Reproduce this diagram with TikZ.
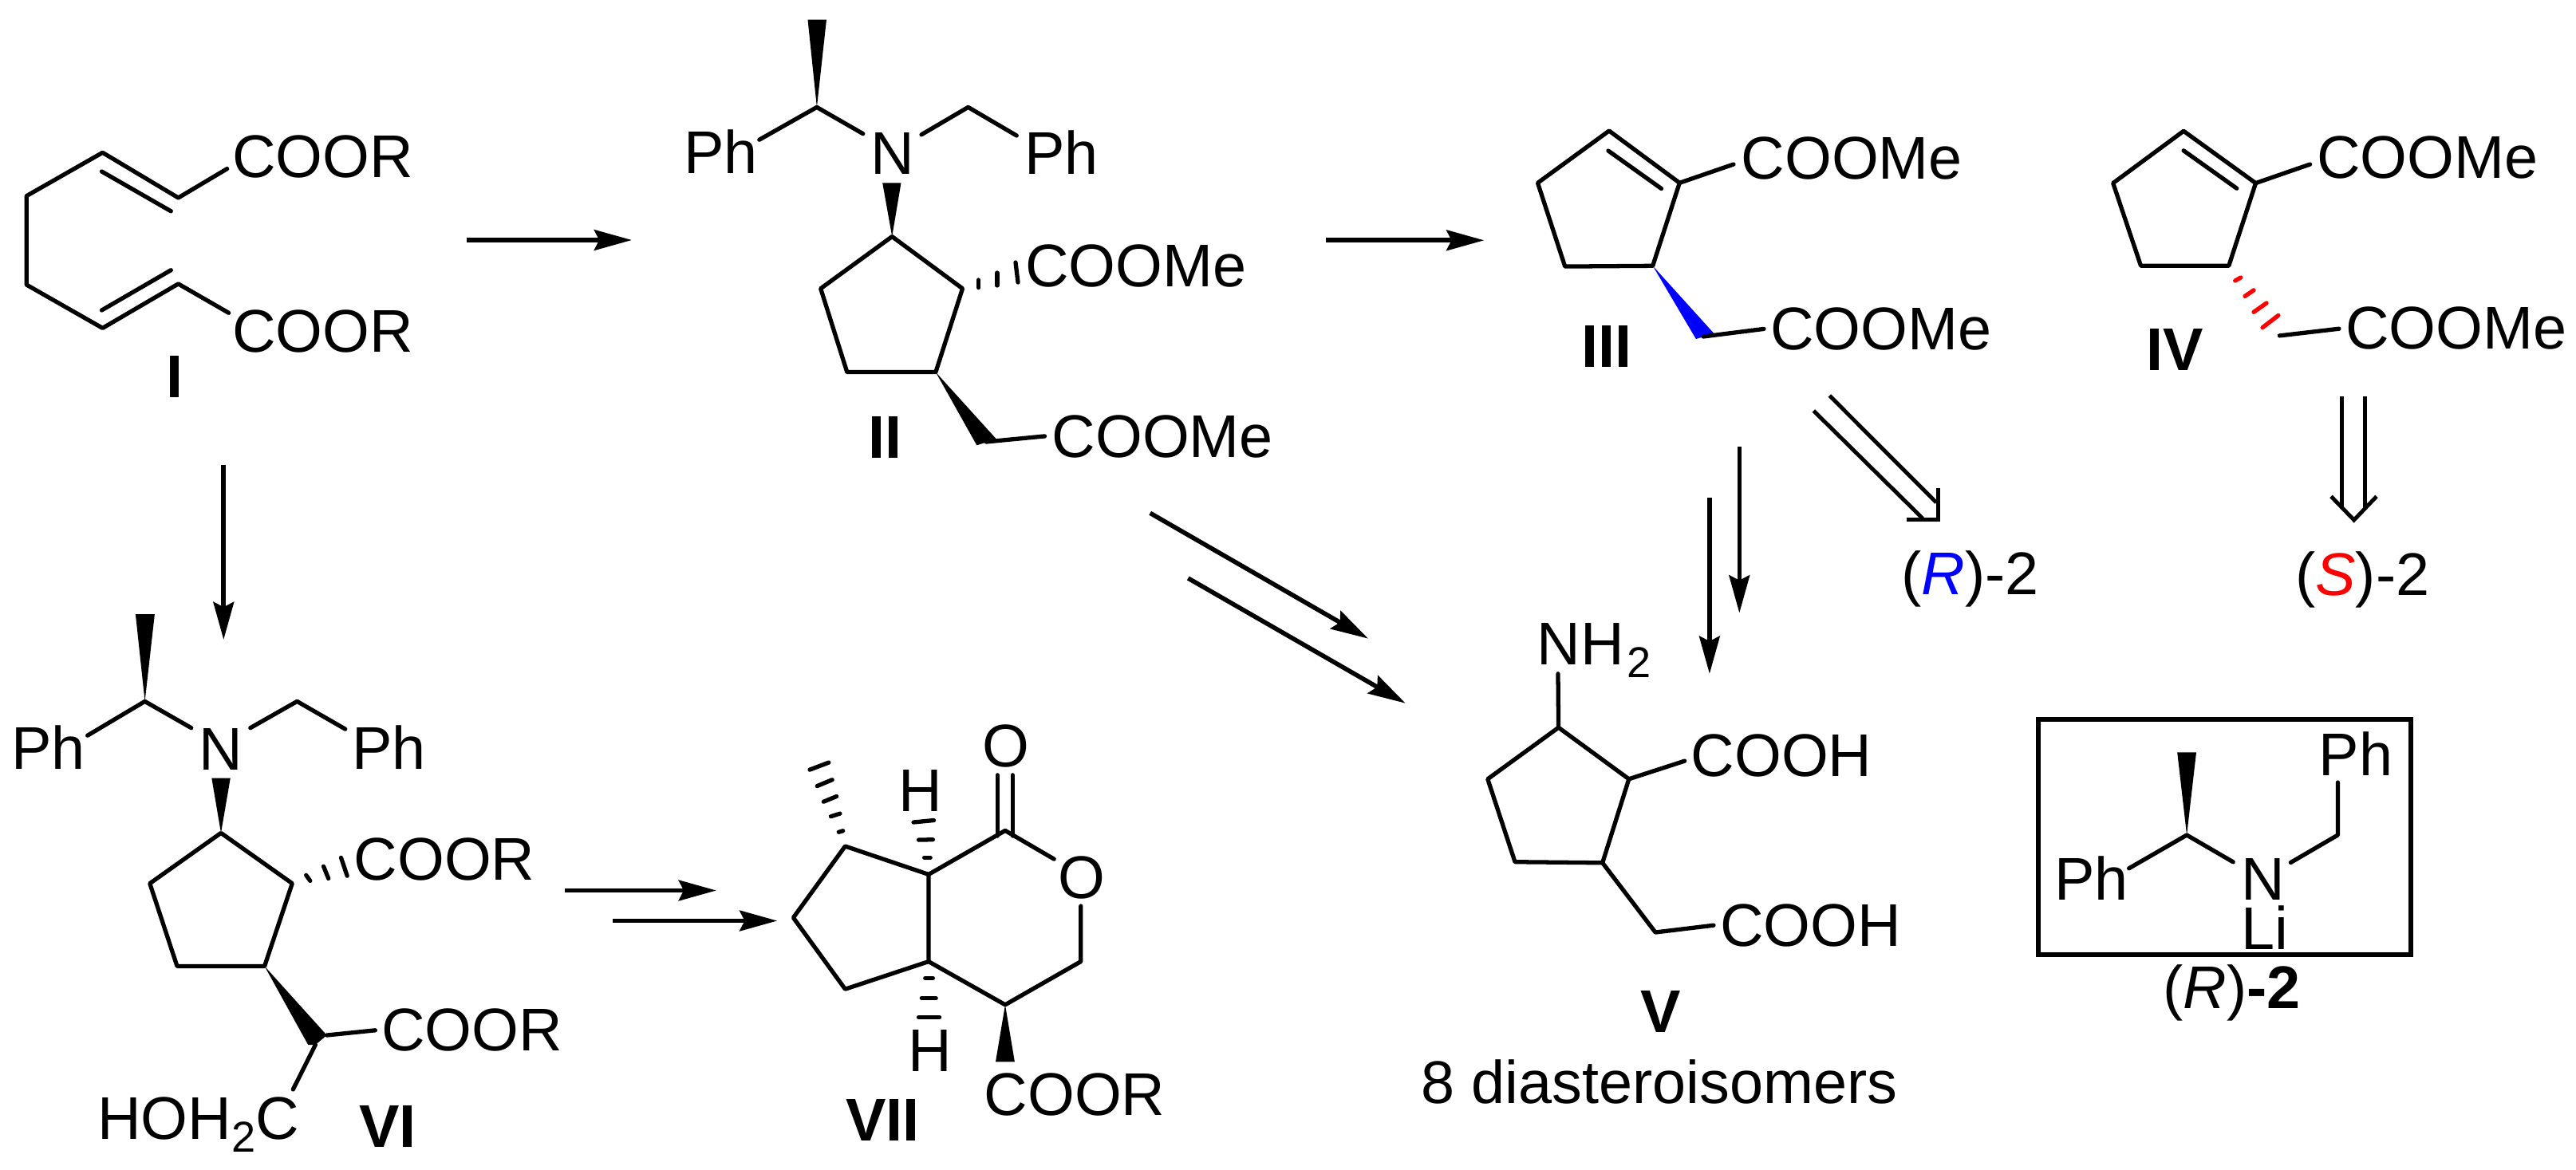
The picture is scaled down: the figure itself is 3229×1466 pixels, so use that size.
\documentclass[tikz,border=0pt]{standalone}
\usepackage{fontspec}
\usepackage{xcolor}
\setmainfont{Liberation Sans}
\usetikzlibrary{arrows.meta}
\newcommand{\subtwo}{\raisebox{-4.4pt}{\fontsize{15.4}{18}\selectfont 2}}
\tikzset{
  bond/.style={line width=1.5pt,line cap=round,line join=round},
  hash/.style={line width=1.5pt,line cap=round},
  rxn/.style={line width=1.6pt,-{Stealth[length=13.4pt,width=7.3pt,inset=1.8pt]}},
  retro/.style={line width=1.4pt,line join=miter},
  txt/.style={anchor=base west,inner sep=0pt,font=\fontsize{21.5}{25}\selectfont},
  molno/.style={anchor=base,inner sep=0pt,font=\fontsize{21.5}{25}\selectfont\bfseries}
}
\begin{document}
\begin{tikzpicture}[x=0.01cm,y=-0.01cm]
\useasboundingbox (0,0) rectangle (3229,1466);
% I
\coordinate (i1) at (128.6,191.3);
\coordinate (i2) at (33.2,245.7);
\coordinate (i3) at (33.2,357);
\coordinate (i4) at (128.6,411.4);
\coordinate (i5) at (223.5,355.9);
\coordinate (i6) at (286.7,392.3);
\coordinate (i7) at (223.5,248);
\coordinate (i8) at (284.7,211.6);
\coordinate (i9) at (127.5,215);
\coordinate (i10) at (214.3,264.8);
\coordinate (i11) at (127.5,389);
\coordinate (i12) at (214.3,338.7);
\draw[bond] (i8) -- (i7) -- (i1) -- (i2) -- (i3) -- (i4) -- (i5) -- (i6);
\draw[bond] (i9) -- (i10);
\draw[bond] (i11) -- (i12);
\node (coori1) at (290.5,222) [txt] {COOR};
\node (coori2) at (290.5,441) [txt] {COOR};
\node (noi) at (218.7,498.6) [molno] {I};
% II
\coordinate (ii1) at (1023.9,134.4);
\coordinate (ii2) at (951.8,175.2);
\coordinate (ii3) at (1081.8,167.7);
\coordinate (ii4) at (1155,168.8);
\coordinate (ii5) at (1213.6,134.4);
\coordinate (ii6) at (1274.3,170);
\coordinate (ii7) at (1118.2,296.6);
\coordinate (ii8) at (1206.5,361.8);
\coordinate (ii9) at (1172.9,466.6);
\coordinate (ii10) at (1061.8,466.6);
\coordinate (ii11) at (1028.7,361.8);
\coordinate (ii12) at (1236,554);
\coordinate (ii13) at (1309.5,546.9);
\fill (1012.5,24.5) -- (1036,24.5) -- (ii1) -- cycle;
\fill (1106.2,229.3) -- (1129.5,229.3) -- (ii7) -- cycle;
\fill (ii9) -- (1224.4,558.3) -- (1248.8,550.4) -- cycle;
\draw[bond] (ii2) -- (ii1) -- (ii3);
\draw[bond] (ii4) -- (ii5) -- (ii6);
\draw[bond] (ii7) -- (ii8) -- (ii9) -- (ii10) -- (ii11) -- cycle;
\draw[bond] (ii12) -- (ii13);
\draw[hash] (1226.6,351) -- (1226.6,360.6);
\draw[hash] (1249.9,342) -- (1249.9,358);
\draw[hash] (1273,329) -- (1276,354);
\node (phii1) at (856.5,217.5) [txt] {Ph};
\node (nii) at (1091,218) [txt] {N};
\node (phii2) at (1283.5,218.5) [txt] {Ph};
\node (cooii1) at (1284.3,359) [txt] {COOMe};
\node (cooii2) at (1318,573.4) [txt] {COOMe};
\node (noii) at (1109,574) [molno] {II};
% III
\coordinate (iii1) at (2017,164);
\coordinate (iii2) at (2105.3,229.3);
\coordinate (iii3) at (2071.7,333.3);
\coordinate (iii4) at (1961.7,334.1);
\coordinate (iii5) at (1927.5,229.3);
\coordinate (iii6) at (2015.9,189);
\coordinate (iii7) at (2082.5,236.5);
\coordinate (iii8) at (2173,206);
\coordinate (iii9) at (2135,422);
\coordinate (iii10) at (2211,412.4);
\fill[blue] (iii3) -- (2125.9,425) -- (2148.6,418.3) -- cycle;
\draw[bond] (iii1) -- (iii2) -- (iii3) -- (iii4) -- (iii5) -- cycle;
\draw[bond] (iii6) -- (iii7);
\draw[bond] (iii2) -- (iii8);
\draw[bond] (iii9) -- (iii10);
\node (cooiii1) at (2182,224.2) [txt] {COOMe};
\node (cooiii2) at (2218.3,438.9) [txt] {COOMe};
\node (noiii) at (2014.4,460.6) [molno] {III};
% IV
\coordinate (iv1) at (2737.1,164.3);
\coordinate (iv2) at (2827.5,229.6);
\coordinate (iv3) at (2793.8,333.2);
\coordinate (iv4) at (2683.5,333.2);
\coordinate (iv5) at (2648.7,229.6);
\coordinate (iv6) at (2737.1,188.8);
\coordinate (iv7) at (2803.7,236.2);
\coordinate (iv8) at (2895.6,206);
\coordinate (iv9) at (2857.4,420.9);
\coordinate (iv10) at (2931.9,412.2);
\draw[bond] (iv1) -- (iv2) -- (iv3) -- (iv4) -- (iv5) -- cycle;
\draw[bond] (iv6) -- (iv7);
\draw[bond] (iv2) -- (iv8);
\draw[bond] (iv9) -- (iv10);
\draw[hash,red] (2801.7,352) -- (2808.7,348);
\draw[hash,red] (2814,371.4) -- (2825,363.8);
\draw[hash,red] (2825,391.3) -- (2841,380);
\draw[hash,red] (2836,410.7) -- (2855.9,395.4);
\node (cooiv1) at (2903.5,223) [txt] {COOMe};
\node (cooiv2) at (2939.3,437.8) [txt] {COOMe};
\node (noiv) at (2725.7,464) [molno] {IV};
% V
\coordinate (v1) at (1953,844.8);
\coordinate (v2) at (1953.6,912.2);
\coordinate (v3) at (2041.8,976.8);
\coordinate (v4) at (2008.7,1081.8);
\coordinate (v5) at (1899,1080.7);
\coordinate (v6) at (1864.8,976.8);
\coordinate (v7) at (2111.7,954.1);
\coordinate (v8) at (2075,1169);
\coordinate (v9) at (2148,1160.2);
\draw[bond] (v2) -- (v3) -- (v4) -- (v5) -- (v6) -- cycle;
\draw[bond] (v1) -- (v2);
\draw[bond] (v3) -- (v7);
\draw[bond] (v4) -- (v8) -- (v9);
\node (nhv) at (1926,833.7) [txt] {NH\kern1pt\subtwo};
\node (coov1) at (2119,973) [txt] {COOH};
\node (coov2) at (2155.5,1186.7) [txt] {COOH};
\node (nov) at (2082,1294.5) [molno] {V};
\node (isov) at (1781,1383.4) [txt] {8 diasteroisomers};
% VI
\coordinate (vi1) at (181.6,879.4);
\coordinate (vi2) at (109.7,922.2);
\coordinate (vi3) at (239.8,912.7);
\coordinate (vi4) at (313.8,912.7);
\coordinate (vi5) at (372.4,879.4);
\coordinate (vi6) at (432.7,914.1);
\coordinate (vi7) at (277,1044.4);
\coordinate (vi8) at (366.3,1107.7);
\coordinate (vi9) at (331.6,1211.4);
\coordinate (vi10) at (222,1211.4);
\coordinate (vi11) at (187.8,1107.7);
\coordinate (vi12) at (409.7,1298);
\coordinate (vi13) at (470.4,1291.8);
\coordinate (vi14) at (395.4,1310);
\coordinate (vi15) at (367.3,1366);
\fill (169.9,770) -- (193.9,770) -- (vi1) -- cycle;
\fill (265.3,975.5) -- (288.8,975.5) -- (vi7) -- cycle;
\fill (vi9) -- (386.2,1310) -- (vi14) -- (vi12) -- cycle;
\draw[bond] (vi2) -- (vi1) -- (vi3);
\draw[bond] (vi4) -- (vi5) -- (vi6);
\draw[bond] (vi7) -- (vi8) -- (vi9) -- (vi10) -- (vi11) -- cycle;
\draw[bond] (vi12) -- (vi13);
\draw[bond] (vi14) -- (vi15);
\draw[hash] (383.7,1097.3) -- (388.8,1104.4);
\draw[hash] (405.6,1086.3) -- (411.7,1101.5);
\draw[hash] (427.5,1075.4) -- (435.2,1098.2);
\node (phvi1) at (13.5,964) [txt] {Ph};
\node (nvi) at (249,965) [txt] {N};
\node (phvi2) at (440.5,964) [txt] {Ph};
\node (coovi1) at (443,1103) [txt] {COOR};
\node (coovi2) at (477.5,1317) [txt] {COOR};
\node (hohvi) at (121.5,1428.8) [txt] {HOH\subtwo C};
\node (novi) at (486,1438.4) [molno] {VI};
% VII
\coordinate (vii1) at (1059.4,1061);
\coordinate (vii2) at (994.4,1150.6);
\coordinate (vii3) at (1059.4,1240.2);
\coordinate (vii4) at (1164,1205.6);
\coordinate (vii5) at (1164,1096.4);
\coordinate (vii6) at (1260,1041.4);
\coordinate (vii7) at (1321.2,1077.1);
\coordinate (vii8) at (1354.8,1136);
\coordinate (vii9) at (1354.8,1205.6);
\coordinate (vii10) at (1260,1259.8);
\coordinate (vii11) at (1250.2,971.8);
\coordinate (vii12) at (1250.2,1048);
\coordinate (vii13) at (1269.2,971.8);
\coordinate (vii14) at (1269.2,1048);
\fill (vii10) -- (1248,1331.3) -- (1271.9,1331.3) -- cycle;
\draw[bond] (vii1) -- (vii2) -- (vii3) -- (vii4) -- (vii5) -- cycle;
\draw[bond] (vii5) -- (vii6) -- (vii7);
\draw[bond] (vii8) -- (vii9) -- (vii10) -- (vii4);
\draw[bond] (vii11) -- (vii12);
\draw[bond] (vii13) -- (vii14);
\draw[hash] (1051.3,1043.3) -- (1056.7,1041.7);
\draw[hash] (1041.5,1023.7) -- (1052.9,1020.1);
\draw[hash] (1032.3,1005.2) -- (1048.6,998.5);
\draw[hash] (1024.2,985.6) -- (1043.1,977.7);
\draw[hash] (1015,965.1) -- (1038.8,956.1);
\draw[hash] (1158.6,1075.2) -- (1166.2,1075.2);
\draw[hash] (1151.5,1053.1) -- (1169.4,1052.7);
\draw[hash] (1145,1031) -- (1170.5,1028.5);
\draw[hash] (1159.7,1226.4) -- (1169.4,1226.4);
\draw[hash] (1155.3,1251.6) -- (1173.2,1251.6);
\draw[hash] (1151.5,1275.5) -- (1177.6,1275.5);
\node (ovii1) at (1230.5,961.2) [txt] {O};
\node (hvii1) at (1125.5,1017) [txt] {H};
\node (ovii2) at (1325.3,1126.2) [txt] {O};
\node (hvii2) at (1137.5,1343) [txt] {H};
\node (coovii) at (1233,1398) [txt] {COOR};
\node (novii) at (1106.3,1430) [molno] {VII};
% box
\coordinate (b1) at (2741.1,1047);
\coordinate (b2) at (2668.6,1088.8);
\coordinate (b3) at (2799.2,1080.8);
\coordinate (b4) at (2871.3,1081.5);
\coordinate (b5) at (2930.4,1047);
\coordinate (b6) at (2930.4,981);
\coordinate (boxa) at (2554.8,902.3);
\coordinate (boxb) at (3022.3,1196.6);
\draw[line width=1.7pt] (boxa) rectangle (boxb);
\fill (2729.2,943.4) -- (2753,943.4) -- (b1) -- cycle;
\draw[bond] (b2) -- (b1) -- (b3);
\draw[bond] (b4) -- (b5) -- (b6);
\node (phb1) at (2906,972) [txt] {Ph};
\node (phb2) at (2574.6,1128.4) [txt] {Ph};
\node (nb) at (2809,1128) [txt] {N};
\node (lib) at (2809,1190) [txt] {Li};
\node (rb) at (2711,1264.8) [txt] {(\textit{R})\textbf{-2}};
\node (r2) at (2382.5,745) [txt] {(\textcolor{blue}{\textit{R}})-2};
\node (s2) at (2876.5,746) [txt] {(\textcolor{red}{\textit{S}})-2};
% arrows
\coordinate (a1s) at (585,301);
\coordinate (a1e) at (792,301);
\coordinate (a2s) at (1662,301.3);
\coordinate (a2e) at (1860.3,301.3);
\coordinate (a3s) at (280.3,582.5);
\coordinate (a3e) at (280.3,802);
\coordinate (a4s) at (707.5,1116.5);
\coordinate (a4e) at (897.9,1116.5);
\coordinate (a5s) at (767.8,1154.5);
\coordinate (a5e) at (974.3,1154.5);
\coordinate (a6s) at (1441.7,643.3);
\coordinate (a6e) at (1715,800.7);
\coordinate (a7s) at (1489.3,725);
\coordinate (a7e) at (1761.7,881.7);
\coordinate (a8s) at (2180.3,560.3);
\coordinate (a8e) at (2180.3,768.5);
\coordinate (a9s) at (2142.9,623.8);
\coordinate (a9e) at (2142.9,844.8);
\draw[rxn] (a1s) -- (a1e);
\draw[rxn] (a2s) -- (a2e);
\draw[rxn] (a3s) -- (a3e);
\draw[rxn] (a4s) -- (a4e);
\draw[rxn] (a5s) -- (a5e);
\draw[rxn] (a6s) -- (a6e);
\draw[rxn] (a7s) -- (a7e);
\draw[rxn] (a8s) -- (a8e);
\draw[rxn] (a9s) -- (a9e);
% retro arrows
\coordinate (r1) at (2293.3,496);
\coordinate (r2s) at (2427,630);
\coordinate (r3) at (2273.3,515);
\coordinate (r4) at (2410,650);
\coordinate (r5) at (2429.5,612);
\coordinate (r6) at (2429.5,651.5);
\coordinate (r7) at (2390,651.5);
\draw[retro] (r1) -- (r2s);
\draw[retro] (r3) -- (r4);
\draw[retro] (r5) -- (r6) -- (r7);
\coordinate (s1) at (2935.8,497.4);
\coordinate (s2e) at (2935.8,637);
\coordinate (s3) at (2964.2,497.4);
\coordinate (s4) at (2964.2,637);
\coordinate (s5) at (2922,622.4);
\coordinate (s6) at (2950.7,652);
\coordinate (s7) at (2979,622.4);
\draw[retro] (s1) -- (s2e);
\draw[retro] (s3) -- (s4);
\draw[retro] (s5) -- (s6) -- (s7);
\end{tikzpicture}
\end{document}
